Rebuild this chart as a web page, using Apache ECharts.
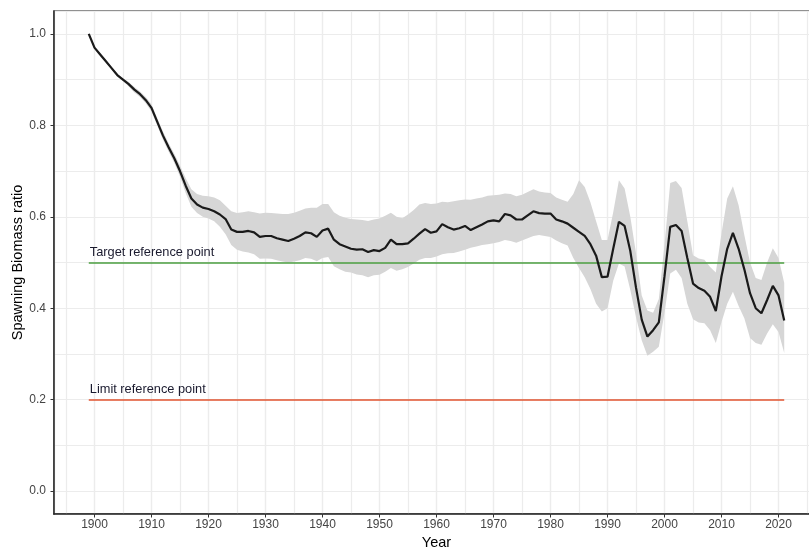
<!DOCTYPE html>
<html>
<head>
<meta charset="utf-8">
<title>Spawning Biomass ratio</title>
<script src="https://cdn.jsdelivr.net/npm/echarts@6/dist/echarts.min.js"></script>
<style>
  html, body { margin: 0; padding: 0; background: #fff; }
  #chart { width: 809px; height: 548px; }
</style>
</head>
<body>
<div id="chart"></div>
<script>
'use strict';

// first model year, one value per year after that
var firstYear = 1899;

// median spawning biomass ratio
var biomass = [
  1.000, 0.970, 0.955, 0.940, 0.925, 0.910, 0.900, 0.890, 0.878, 0.868,
  0.855, 0.838, 0.808, 0.778, 0.752, 0.728, 0.700, 0.668, 0.640, 0.627,
  0.620, 0.617, 0.612, 0.605, 0.595, 0.572, 0.567, 0.567, 0.569, 0.566,
  0.556, 0.558, 0.558, 0.553, 0.550, 0.547, 0.552, 0.558, 0.566, 0.564,
  0.556, 0.570, 0.574, 0.550, 0.540, 0.535, 0.530, 0.528, 0.529, 0.523,
  0.527, 0.525, 0.532, 0.550, 0.540, 0.540, 0.542, 0.552, 0.563, 0.573,
  0.565, 0.568, 0.584, 0.577, 0.572, 0.575, 0.580, 0.571, 0.577, 0.583,
  0.590, 0.592, 0.590, 0.606, 0.603, 0.594, 0.594, 0.603, 0.612, 0.608,
  0.607, 0.607, 0.594, 0.590, 0.585, 0.576, 0.567, 0.558, 0.540, 0.515,
  0.468, 0.469, 0.530, 0.589, 0.580, 0.525, 0.445, 0.375, 0.338, 0.352,
  0.369, 0.470, 0.578, 0.582, 0.569, 0.510, 0.454, 0.444, 0.438, 0.425,
  0.394, 0.470, 0.530, 0.565, 0.530, 0.485, 0.433, 0.400, 0.389, 0.418,
  0.449, 0.428, 0.373
];

// upper edge of the uncertainty band
var upperBand = [
  1.002, 0.972, 0.957, 0.942, 0.928, 0.913, 0.903, 0.895, 0.884, 0.874,
  0.862, 0.846, 0.816, 0.787, 0.761, 0.738, 0.712, 0.684, 0.660, 0.650,
  0.646, 0.645, 0.642, 0.636, 0.624, 0.612, 0.608, 0.610, 0.612, 0.610,
  0.607, 0.609, 0.608, 0.607, 0.606, 0.606, 0.609, 0.613, 0.618, 0.620,
  0.620, 0.628, 0.628, 0.610, 0.602, 0.598, 0.595, 0.594, 0.593, 0.591,
  0.594, 0.596, 0.602, 0.609, 0.600, 0.597, 0.605, 0.615, 0.627, 0.630,
  0.628, 0.629, 0.633, 0.632, 0.634, 0.636, 0.638, 0.637, 0.640, 0.642,
  0.646, 0.647, 0.648, 0.651, 0.650, 0.645, 0.648, 0.654, 0.660, 0.655,
  0.653, 0.652, 0.642, 0.637, 0.633, 0.650, 0.680, 0.665, 0.632, 0.590,
  0.549, 0.549, 0.610, 0.680, 0.662, 0.600, 0.520, 0.428, 0.395, 0.390,
  0.420, 0.540, 0.674, 0.678, 0.663, 0.590, 0.516, 0.509, 0.506, 0.490,
  0.478, 0.564, 0.640, 0.667, 0.625, 0.560, 0.500, 0.466, 0.462, 0.500,
  0.531, 0.510, 0.455
];

// lower edge of the uncertainty band
var lowerBand = [
  0.998, 0.968, 0.953, 0.938, 0.922, 0.907, 0.897, 0.885, 0.872, 0.862,
  0.848, 0.830, 0.800, 0.769, 0.743, 0.718, 0.688, 0.652, 0.622, 0.608,
  0.600, 0.596, 0.590, 0.578, 0.562, 0.538, 0.528, 0.524, 0.522, 0.518,
  0.508, 0.509, 0.508, 0.505, 0.502, 0.500, 0.502, 0.505, 0.510, 0.508,
  0.503, 0.510, 0.512, 0.492, 0.485, 0.480, 0.478, 0.474, 0.472, 0.468,
  0.472, 0.473, 0.480, 0.488, 0.482, 0.485, 0.490, 0.498, 0.506, 0.510,
  0.510, 0.513, 0.518, 0.520, 0.521, 0.524, 0.528, 0.532, 0.535, 0.538,
  0.540, 0.542, 0.545, 0.549, 0.547, 0.543, 0.548, 0.553, 0.558, 0.560,
  0.558, 0.556, 0.548, 0.542, 0.537, 0.510, 0.488, 0.468, 0.442, 0.410,
  0.393, 0.400, 0.460, 0.498, 0.491, 0.440, 0.380, 0.330, 0.296, 0.305,
  0.316, 0.390, 0.476, 0.484, 0.466, 0.410, 0.376, 0.369, 0.367, 0.352,
  0.324, 0.370, 0.410, 0.436, 0.405, 0.378, 0.335, 0.324, 0.320, 0.345,
  0.365, 0.348, 0.302
];

var targetRef = 0.5;
var limitRef = 0.2;
var refLabels = ['Target reference point', 'Limit reference point'];

var years = biomass.map(function (_v, _i) { return firstYear + _i; });
var lastYear = years[years.length - 1];

// ggplot style 5% padding round the data
var xMin = firstYear - (lastYear - firstYear) * 0.05;
var xMax = lastYear + (lastYear - firstYear) * 0.05;
var yMin = -0.05;
var yMax = 1.05;

var fontFamily = '"Liberation Sans", Arial, sans-serif';
var gridColor = '#e6e6e6';

// horizontal reference line with its text sitting on the left end
function refLine(_value, _label, _color) {
  return [
    {
      coord: [firstYear, _value],
      name: _label,
      lineStyle: { color: _color, width: 1.5, type: 'solid' }
    },
    { coord: [lastYear, _value] }
  ];
}

var myChart = echarts.init(document.getElementById('chart'), null, { renderer: 'canvas' });

var option = {
  animation: false,
  backgroundColor: '#fff',
  grid: {
    left: 54,
    top: 11,
    right: -10,
    bottom: 34,
    show: true,
    borderColor: '#6e6e6e',
    borderWidth: 1.5,
    containLabel: false,
    outerBoundsMode: 'none'
  },
  xAxis: [{
    type: 'value',
    min: xMin,
    max: xMax,
    minInterval: 10,
    maxInterval: 10,
    name: 'Year',
    nameLocation: 'middle',
    nameGap: 21,
    nameMoveOverlap: false,
    nameTextStyle: { color: '#000', fontSize: 14.5, fontFamily: fontFamily },
    axisLine: { show: true, onZero: false, lineStyle: { color: '#222', width: 1.5 } },
    axisTick: { show: true, length: 3.5, lineStyle: { color: '#333' } },
    axisLabel: {
      color: '#444',
      fontSize: 12,
      fontFamily: fontFamily,
      margin: 5,
      showMinLabel: false,
      showMaxLabel: false,
      formatter: function (_v) { return _v % 10 === 0 ? String(_v) : ''; }
    },
    splitLine: { show: true, lineStyle: { color: gridColor, width: 1.2 } }
  }, {
    // minor grid, every 5 years
    type: 'value',
    min: xMin,
    max: xMax,
    minInterval: 5,
    maxInterval: 5,
    position: 'bottom',
    axisLine: { show: false },
    axisTick: { show: false },
    axisLabel: { show: false },
    splitLine: { show: true, lineStyle: { color: '#ececec', width: 1.2 } }
  }],
  yAxis: [{
    type: 'value',
    min: yMin,
    max: yMax,
    minInterval: 0.2,
    maxInterval: 0.2,
    name: 'Spawning Biomass ratio',
    nameLocation: 'middle',
    nameGap: 29,
    nameMoveOverlap: false,
    nameTextStyle: { color: '#000', fontSize: 14.5, fontFamily: fontFamily },
    axisLine: { show: true, onZero: false, lineStyle: { color: '#222', width: 1.5 } },
    axisTick: { show: true, length: 3.5, lineStyle: { color: '#333' } },
    axisLabel: {
      color: '#444',
      fontSize: 12,
      fontFamily: fontFamily,
      margin: 8,
      showMinLabel: false,
      showMaxLabel: false,
      formatter: function (_v) {
        var r = Math.round(_v * 10) / 10;
        return Math.abs(_v - r) < 1e-6 ? r.toFixed(1) : '';
      }
    },
    splitLine: { show: true, lineStyle: { color: gridColor, width: 1.2 } }
  }, {
    // minor grid, every 0.1
    type: 'value',
    min: yMin,
    max: yMax,
    minInterval: 0.1,
    maxInterval: 0.1,
    position: 'left',
    axisLine: { show: false },
    axisTick: { show: false },
    axisLabel: { show: false },
    splitLine: { show: true, lineStyle: { color: '#ececec', width: 1.2 } }
  }],
  series: [
    {
      type: 'custom',
      xAxisIndex: 0,
      yAxisIndex: 0,
      silent: true,
      z: 1,
      clip: true,
      renderItem: function (params, api) {
        var pts = [];
        var i;
        for (i = 0; i < years.length; i++) {
          pts.push(api.coord([years[i], upperBand[i]]));
        }
        for (i = years.length - 1; i >= 0; i--) {
          pts.push(api.coord([years[i], lowerBand[i]]));
        }
        return {
          type: 'polygon',
          shape: { points: pts },
          style: { fill: '#d6d6d6', stroke: null }
        };
      },
      data: [[years[0], biomass[0]]]
    },
    {
      type: 'line',
      xAxisIndex: 0,
      yAxisIndex: 0,
      showSymbol: false,
      symbol: 'none',
      silent: true,
      z: 4,
      lineStyle: { color: '#1a1a1a', width: 2.2 },
      data: years.map(function (_y, _i) { return [_y, biomass[_i]]; }),
      markLine: {
        silent: true,
        symbol: ['none', 'none'],
        z: 3,
        animation: false,
        label: {
          show: true,
          formatter: '{b}',
          position: 'insideStartTop',
          distance: [1, 4],
          color: '#1a1a2e',
          fontSize: 12.8,
          fontFamily: fontFamily
        },
        emphasis: { disabled: true },
        data: [
          refLine(targetRef, refLabels[0], '#4a9e3f'),
          refLine(limitRef, refLabels[1], '#e0532f')
        ]
      }
    }
  ]
};

myChart.setOption(option);
</script>
</body>
</html>
